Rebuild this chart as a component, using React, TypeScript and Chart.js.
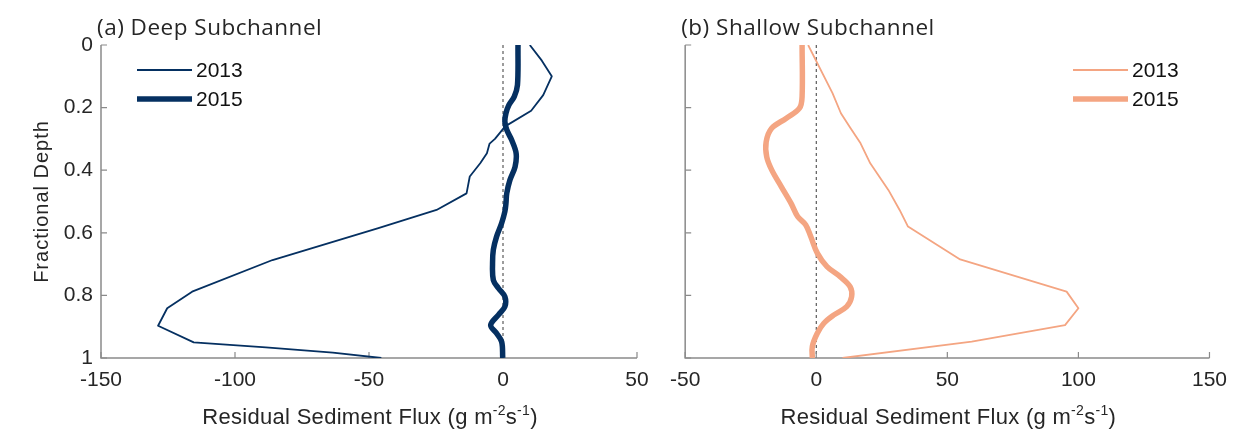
import { useEffect, useRef } from "react";
import { Chart, registerables } from "chart.js";

Chart.register(...registerables);

// Axis ticks
const DEPTH_TICKS = [0, 0.2, 0.4, 0.6, 0.8, 1];
const DEEP_FLUX_TICKS = [-150, -100, -50, 0, 50];
const SHALLOW_FLUX_TICKS = [-50, 0, 50, 100, 150];

const SERIES_LABELS = ["2013", "2015"];

// (a) Deep subchannel, 2013 profile
const deep2013Depth = [0, 0.05, 0.1, 0.16, 0.21, 0.26, 0.3, 0.315, 0.346, 0.378, 0.42, 0.474, 0.527, 0.585, 0.687, 0.788, 0.841, 0.897, 0.95, 0.966, 0.983, 1.0];
const deep2013Flux = [10, 14.5, 18.2, 15, 10.5, 0.8, -3, -5, -6, -8.5, -12.4, -13.6, -24.8, -46.5, -86, -116, -125.3, -128.7, -115.4, -88.5, -63.5, -45.4];

// (a) Deep subchannel, 2015 profile
const deep2015Depth = [0, 0.128, 0.165, 0.192, 0.218, 0.245, 0.271, 0.303, 0.346, 0.389, 0.431, 0.474, 0.506, 0.532, 0.569, 0.612, 0.654, 0.697, 0.751, 0.777, 0.804, 0.836, 0.862, 0.895, 0.921, 0.948, 1.0];
const deep2015Flux = [5.6, 5.4, 4.2, 2.2, 1.1, 0.7, 1.4, 3.2, 4.9, 4.5, 2.6, 1.4, 1.1, 0.7, -0.5, -2.4, -3.6, -3.9, -3.6, -1.7, 0.7, 0.7, -1.7, -4.6, -2.4, -0.5, -0.1];

// (b) Shallow subchannel, 2013 profile
const shallow2013Depth = [0, 0.154, 0.218, 0.266, 0.314, 0.378, 0.463, 0.527, 0.58, 0.685, 0.788, 0.841, 0.895, 0.948, 1.0];
const shallow2013Flux = [-3.1, 6.2, 9.4, 13.1, 16.9, 20.6, 27.5, 31.8, 35, 54.9, 95.5, 100, 94.9, 59.3, 10];

// (b) Shallow subchannel, 2015 profile
const shallow2015Depth = [0, 0.165, 0.202, 0.234, 0.266, 0.309, 0.357, 0.399, 0.453, 0.506, 0.548, 0.575, 0.612, 0.665, 0.708, 0.74, 0.772, 0.804, 0.836, 0.863, 0.889, 0.921, 0.963, 1.0];
const shallow2015Flux = [-5.4, -5.4, -6.4, -11.4, -17, -19.1, -18.9, -17, -13.3, -9.6, -7.1, -4.0, -2.1, 0.4, 4.1, 9.1, 12.9, 13.5, 11.6, 6.6, 2.9, 0.4, -1.5, -1.5];

const NAVY = "#053061";
const SALMON = "#F4A582";
const AXIS_GREY = "#8a8a8a";
const TEXT_DARK = "#262626";
const SANS = "'Liberation Sans', Arial, sans-serif";
const TITLE_FONT = "'Open Sans', 'Noto Sans', sans-serif";

const W = 1237;
const H = 429;
const PLOT_TOP = 45;
const PLOT_BOTTOM = 358;

type PanelSpec = {
  title: string;
  canvasLeft: number;
  canvasWidth: number;
  plotLeft: number;
  plotRight: number;
  fluxTicks: number[];
  depth2013: number[];
  flux2013: number[];
  depth2015: number[];
  flux2015: number[];
  color: string;
  legendX: number;
  showDepthLabels: boolean;
};

const toPoints = (depth: number[], flux: number[]) => depth.map((d, i) => ({ x: flux[i], y: d }));

function drawFluxTitle(ctx: CanvasRenderingContext2D, cx: number, baseline: number) {
  const parts: [string, boolean][] = [
    ["Residual Sediment Flux (g m", false],
    ["-2", true],
    ["s", false],
    ["-1", true],
    [")", false],
  ];
  const mainFont = `22px ${SANS}`;
  const supFont = `14px ${SANS}`;
  (ctx as any).letterSpacing = "0.3px";
  let total = 0;
  for (const [t, sup] of parts) {
    ctx.font = sup ? supFont : mainFont;
    total += ctx.measureText(t).width;
  }
  let x = cx - total / 2;
  ctx.fillStyle = TEXT_DARK;
  ctx.textAlign = "left";
  ctx.textBaseline = "alphabetic";
  for (const [t, sup] of parts) {
    ctx.font = sup ? supFont : mainFont;
    ctx.fillText(t, x, sup ? baseline - 9 : baseline);
    x += ctx.measureText(t).width;
  }
  (ctx as any).letterSpacing = "0px";
}

function makeDecorations(spec: PanelSpec) {
  return {
    id: "profileDecorations",
    beforeDatasetsDraw(chart: any) {
      const { ctx, chartArea: a, scales } = chart;
      const xs = scales.x;
      const ys = scales.y;
      ctx.save();
      // zero-flux reference line
      const x0 = xs.getPixelForValue(0);
      ctx.strokeStyle = "#3a3a3a";
      ctx.lineWidth = 1;
      ctx.setLineDash([3, 3]);
      ctx.beginPath();
      ctx.moveTo(x0, a.top);
      ctx.lineTo(x0, a.bottom);
      ctx.stroke();
      ctx.setLineDash([]);
      // left and bottom axis lines
      ctx.strokeStyle = AXIS_GREY;
      ctx.lineWidth = 1.5;
      ctx.beginPath();
      ctx.moveTo(a.left, a.top);
      ctx.lineTo(a.left, a.bottom);
      ctx.lineTo(a.right, a.bottom);
      ctx.stroke();
      // inward tick marks
      ctx.lineWidth = 1.2;
      ctx.beginPath();
      for (const t of xs.ticks) {
        const px = xs.getPixelForValue(t.value);
        ctx.moveTo(px, a.bottom);
        ctx.lineTo(px, a.bottom - 6);
      }
      for (const t of ys.ticks) {
        const py = ys.getPixelForValue(t.value);
        ctx.moveTo(a.left, py);
        ctx.lineTo(a.left + 6, py);
      }
      ctx.stroke();
      ctx.restore();
    },
    afterDraw(chart: any) {
      const { ctx, chartArea: a } = chart;
      ctx.save();
      // panel title
      ctx.fillStyle = TEXT_DARK;
      ctx.font = `22.5px ${TITLE_FONT}`;
      (ctx as any).letterSpacing = "0.5px";
      ctx.textAlign = "left";
      ctx.textBaseline = "alphabetic";
      ctx.fillText(spec.title, a.left - 4, 35);
      (ctx as any).letterSpacing = "0px";
      // x-axis title
      drawFluxTitle(ctx, (a.left + a.right) / 2 + 1, 424);
      // y-axis title
      if (spec.showDepthLabels) {
        ctx.save();
        ctx.translate(48, (PLOT_TOP + PLOT_BOTTOM) / 2);
        ctx.rotate(-Math.PI / 2);
        ctx.font = `20px ${SANS}`;
        (ctx as any).letterSpacing = "1px";
        ctx.textAlign = "center";
        ctx.textBaseline = "alphabetic";
        ctx.fillStyle = TEXT_DARK;
        ctx.fillText("Fractional Depth", 0, 0);
        ctx.restore();
      }
      // legend
      const ds = chart.data.datasets;
      const rows = [70, 99];
      ds.forEach((d: any, i: number) => {
        const y = rows[i];
        ctx.strokeStyle = d.borderColor;
        ctx.lineWidth = d.borderWidth;
        ctx.lineCap = "butt";
        ctx.beginPath();
        ctx.moveTo(spec.legendX, y);
        ctx.lineTo(spec.legendX + 55, y);
        ctx.stroke();
        ctx.fillStyle = "#111";
        ctx.font = `21px ${SANS}`;
        ctx.textAlign = "left";
        ctx.textBaseline = "middle";
        ctx.fillText(d.label, spec.legendX + 59, y + 1);
      });
      ctx.restore();
    },
  };
}

function ProfilePanel({ spec }: { spec: PanelSpec }) {
  const ref = useRef<HTMLCanvasElement | null>(null);
  useEffect(() => {
    if (!ref.current) return;
    const yWidth = spec.plotLeft - spec.canvasLeft;
    const rightPad = spec.canvasLeft + spec.canvasWidth - spec.plotRight;
    const chart = new Chart(ref.current, {
      type: "scatter",
      data: {
        datasets: [
          {
            label: SERIES_LABELS[0],
            data: toPoints(spec.depth2013, spec.flux2013),
            showLine: true,
            borderColor: spec.color,
            backgroundColor: spec.color,
            borderWidth: 1.8,
            pointRadius: 0,
            tension: 0,
            borderJoinStyle: "round",
          },
          {
            label: SERIES_LABELS[1],
            data: toPoints(spec.depth2015, spec.flux2015),
            showLine: true,
            borderColor: spec.color,
            backgroundColor: spec.color,
            borderWidth: 5.5,
            pointRadius: 0,
            tension: 0.35,
            borderJoinStyle: "round",
            borderCapStyle: "butt",
          },
        ],
      },
      options: {
        animation: false,
        responsive: false,
        devicePixelRatio: 1,
        layout: { padding: { left: 0, right: rightPad, top: PLOT_TOP, bottom: 0 } },
        plugins: { legend: { display: false }, tooltip: { enabled: false }, title: { display: false } },
        scales: {
          x: {
            type: "linear",
            min: spec.fluxTicks[0],
            max: spec.fluxTicks[spec.fluxTicks.length - 1],
            afterBuildTicks: (s: any) => {
              s.ticks = spec.fluxTicks.map((v) => ({ value: v }));
            },
            afterFit: (s: any) => {
              s.height = H - PLOT_BOTTOM;
            },
            grid: { display: false, drawTicks: false },
            border: { display: false },
            ticks: {
              color: TEXT_DARK,
              font: { family: SANS, size: 21 },
              padding: 10,
              maxRotation: 0,
              autoSkip: false,
              callback: (v: any) => String(v),
            },
          },
          y: {
            type: "linear",
            min: 0,
            max: 1,
            reverse: true,
            afterBuildTicks: (s: any) => {
              s.ticks = DEPTH_TICKS.map((v) => ({ value: v }));
            },
            afterFit: (s: any) => {
              s.width = yWidth;
            },
            grid: { display: false, drawTicks: false },
            border: { display: false },
            ticks: {
              display: spec.showDepthLabels,
              color: TEXT_DARK,
              font: { family: SANS, size: 21 },
              padding: 8,
              autoSkip: false,
              callback: (v: any) => String(Math.round(Number(v) * 10) / 10),
            },
          },
        },
      },
      plugins: [makeDecorations(spec)],
    } as any);
    return () => chart.destroy();
  }, [spec]);
  return (
    <canvas
      ref={ref}
      width={spec.canvasWidth}
      height={H}
      style={{ position: "absolute", left: spec.canvasLeft, top: 0, width: spec.canvasWidth, height: H }}
    />
  );
}

const deepPanel: PanelSpec = {
  title: "(a) Deep Subchannel",
  canvasLeft: 0,
  canvasWidth: 660,
  plotLeft: 101,
  plotRight: 637,
  fluxTicks: DEEP_FLUX_TICKS,
  depth2013: deep2013Depth,
  flux2013: deep2013Flux,
  depth2015: deep2015Depth,
  flux2015: deep2015Flux,
  color: NAVY,
  legendX: 137,
  showDepthLabels: true,
};

const shallowPanel: PanelSpec = {
  title: "(b) Shallow Subchannel",
  canvasLeft: 660,
  canvasWidth: 577,
  plotLeft: 680,
  plotRight: 1216,
  fluxTicks: SHALLOW_FLUX_TICKS,
  depth2013: shallow2013Depth,
  flux2013: shallow2013Flux,
  depth2015: shallow2015Depth,
  flux2015: shallow2015Flux,
  color: SALMON,
  legendX: 1073 - 660,
  showDepthLabels: false,
};

export default function App() {
  return (
    <div style={{ position: "absolute", left: 0, top: 0, width: W, height: H, background: "#fff", overflow: "hidden" }}>
      <ProfilePanel spec={deepPanel} />
      <ProfilePanel spec={shallowPanel} />
    </div>
  );
}
